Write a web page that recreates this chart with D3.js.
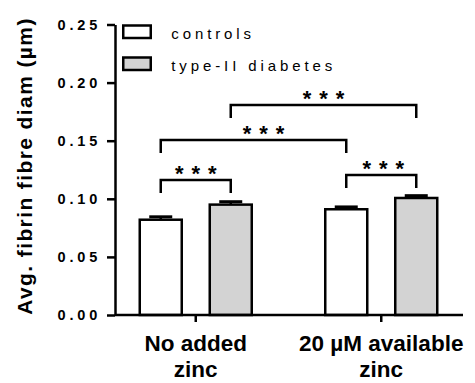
<!DOCTYPE html>
<html>
<head>
<meta charset="utf-8">
<script src="https://cdn.jsdelivr.net/npm/d3@7"></script>
<style>
    body { margin: 0; background: #fff; }
    svg { display: block; font-family: "Liberation Sans", Arial, sans-serif; }
</style>
</head>
<body>
<svg id="chart" width="475" height="383"></svg>
<script>
// data
var groups = ["No added zinc", "20 µM available zinc"];
var groupLabels = [["No added", "zinc"], ["20 µM available", "zinc"]];
var series = ["controls", "type-II diabetes"];
var controlsMean = [0.082, 0.091];
var controlsSem = [0.0025, 0.002];
var diabetesMean = [0.095, 0.1007];
var diabetesSem = [0.0025, 0.002];
var yTicks = [0, 0.05, 0.10, 0.15, 0.20, 0.25];
// comparisons: [group, series] -> [group, series], bracket height in data units
var compFrom = [[0, 0], [0, 0], [0, 1], [1, 0]];
var compTo = [[0, 1], [1, 0], [1, 1], [1, 1]];
var compLevel = [0.1162, 0.1506, 0.1807, 0.1205];
var compLabel = ["***", "***", "***", "***"];

var FILLS = ["#ffffff", "#d3d3d3"];
var STROKE_W = 2.5;
var BAR_W = 42;
var LEG = 13;

var svg = d3.select("#chart");

var y = d3.scaleLinear().domain([0, 0.25]).range([315, 24.5]);
var x0 = d3.scaleBand().domain(groups).range([103, 474]);
var x1 = d3.scalePoint().domain(series).range([-35, 35]);

function barX(g, s) {
    return x0(groups[g]) + x0.bandwidth() / 2 + x1(series[s]);
}

var rows = [];
groups.forEach(function (g, i) {
    rows.push({g: i, s: 0, mean: controlsMean[i], sem: controlsSem[i]});
    rows.push({g: i, s: 1, mean: diabetesMean[i], sem: diabetesSem[i]});
});

// bars
svg.selectAll("rect.bar").data(rows).enter().append("rect")
    .attr("class", "bar")
    .attr("x", function (d) { return barX(d.g, d.s) - BAR_W / 2; })
    .attr("y", function (d) { return y(d.mean); })
    .attr("width", BAR_W)
    .attr("height", function (d) { return y(0) - y(d.mean); })
    .attr("fill", function (d) { return FILLS[d.s]; })
    .attr("stroke", "#000").attr("stroke-width", STROKE_W);

// error bars (upper only)
svg.selectAll("line.err").data(rows).enter().append("line")
    .attr("class", "err")
    .attr("x1", function (d) { return barX(d.g, d.s); })
    .attr("x2", function (d) { return barX(d.g, d.s); })
    .attr("y1", function (d) { return y(d.mean); })
    .attr("y2", function (d) { return y(d.mean + d.sem); })
    .attr("stroke", "#000").attr("stroke-width", STROKE_W);
svg.selectAll("line.cap").data(rows).enter().append("line")
    .attr("class", "cap")
    .attr("x1", function (d) { return barX(d.g, d.s) - 11.5; })
    .attr("x2", function (d) { return barX(d.g, d.s) + 11.5; })
    .attr("y1", function (d) { return y(d.mean + d.sem); })
    .attr("y2", function (d) { return y(d.mean + d.sem); })
    .attr("stroke", "#000").attr("stroke-width", 3);

// y axis
var yAxis = svg.append("g").attr("transform", "translate(115,0)")
    .call(d3.axisLeft(y).tickValues(yTicks).tickFormat(d3.format(".2f")).tickSize(8).tickSizeOuter(0));
yAxis.select(".domain").attr("stroke-width", STROKE_W);
yAxis.selectAll(".tick line").attr("stroke-width", STROKE_W);
yAxis.selectAll(".tick text")
    .attr("x", -14)
    .attr("fill", "#000")
    .style("font-family", "'Liberation Sans', Arial, sans-serif")
    .style("font-size", "14.5px").style("font-weight", "bold")
    .style("letter-spacing", "3.8px");

// x axis
var xAxis = svg.append("g").attr("transform", "translate(0,315)");
xAxis.append("line").attr("x1", 115).attr("x2", 463).attr("stroke", "#000").attr("stroke-width", STROKE_W);
xAxis.selectAll("line.tick").data(groups).enter().append("line")
    .attr("class", "tick")
    .attr("x1", function (d) { return x0(d) + x0.bandwidth() / 2; })
    .attr("x2", function (d) { return x0(d) + x0.bandwidth() / 2; })
    .attr("y1", 0).attr("y2", 7)
    .attr("stroke", "#000").attr("stroke-width", STROKE_W);
var xl = svg.selectAll("text.xl").data(groups).enter().append("text")
    .attr("class", "xl")
    .attr("text-anchor", "middle")
    .style("font-size", "22.5px").style("font-weight", "bold");
xl.each(function (d, i) {
    var t = d3.select(this);
    groupLabels[i].forEach(function (line, k) {
        t.append("tspan").attr("x", x0(d) + x0.bandwidth() / 2).attr("y", 351 + k * 26).text(line);
    });
});

// y label
svg.append("text")
    .attr("transform", "translate(32,166) rotate(-90)")
    .attr("text-anchor", "middle")
    .style("font-size", "21px").style("font-weight", "bold")
    .style("letter-spacing", "1.4px")
    .text("Avg. fibrin fibre diam (µm)");

// significance brackets
var labelShift = [0, 10, 0, 2];
compFrom.forEach(function (f, i) {
    var t = compTo[i];
    var xa = barX(f[0], f[1]), xb = barX(t[0], t[1]);
    var yl = y(compLevel[i]);
    svg.append("path")
        .attr("d", "M" + xa + "," + (yl + LEG) + "V" + yl + "H" + xb + "V" + (yl + LEG))
        .attr("fill", "none").attr("stroke", "#000").attr("stroke-width", STROKE_W);
    svg.append("text")
        .attr("x", (xa + xb) / 2 + labelShift[i] + 4)
        .attr("y", yl + 1)
        .attr("text-anchor", "middle")
        .style("font-size", "22px").style("font-weight", "bold")
        .style("letter-spacing", "8px")
        .text(compLabel[i]);
});

// legend
var legend = svg.selectAll("g.legend").data(series).enter().append("g")
    .attr("class", "legend")
    .attr("transform", function (d, i) { return "translate(123.25," + (25.5 + i * 32) + ")"; });
legend.append("rect")
    .attr("width", 27.5).attr("height", 12.5)
    .attr("fill", function (d, i) { return FILLS[i]; })
    .attr("stroke", "#000").attr("stroke-width", STROKE_W);
legend.append("text")
    .attr("x", 48).attr("y", 13.5)
    .style("font-size", "15px")
    .style("letter-spacing", "3.9px")
    .text(function (d) { return d; });
</script>
</body>
</html>
